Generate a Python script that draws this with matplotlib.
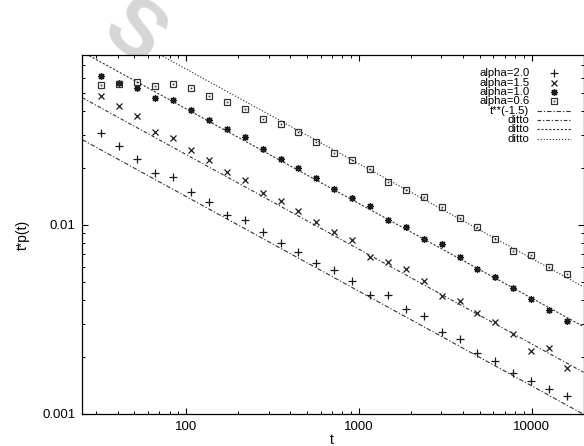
import numpy as np
import matplotlib
matplotlib.use("Agg")
import matplotlib.pyplot as plt
from matplotlib.ticker import FuncFormatter, LogLocator, NullFormatter

plt.rcParams["font.family"] = ["Liberation Sans", "DejaVu Sans"]
plt.rcParams["lines.scale_dashes"] = False

# time steps
t = [32, 41, 52, 66, 84, 106, 135, 172, 218, 277, 352, 446, 567, 720, 914,
     1160, 1473, 1870, 2375, 3015, 3828, 4861, 6172, 7837, 9950, 12634, 16042]

# t*p(t) for each alpha
p_a20 = [0.0304, 0.0260, 0.0224, 0.0189, 0.0178, 0.0149, 0.0132, 0.0113, 0.0106,
         0.00913, 0.00801, 0.00715, 0.00629, 0.00575, 0.00507, 0.00427, 0.00425,
         0.00361, 0.00329, 0.00270, 0.00248, 0.00210, 0.00191, 0.00164, 0.00150,
         0.00135, 0.00125]
p_a15 = [0.0478, 0.0423, 0.0375, 0.0309, 0.0289, 0.0248, 0.0220, 0.0191, 0.0173,
         0.0148, 0.0133, 0.0119, 0.0103, 0.00913, 0.00827, 0.00673, 0.00639,
         0.00584, 0.00503, 0.00423, 0.00398, 0.00343, 0.00306, 0.00264, 0.00215,
         0.00223, 0.00175]
p_a10 = [0.0611, 0.0561, 0.0530, 0.0470, 0.0455, 0.0403, 0.0357, 0.0320, 0.0292,
         0.0251, 0.0224, 0.0200, 0.0177, 0.0154, 0.0139, 0.0126, 0.0106, 0.00973,
         0.00841, 0.00792, 0.00679, 0.00584, 0.00531, 0.00462, 0.00403, 0.00356,
         0.00309]
p_a06 = [0.0550, 0.0557, 0.0566, 0.0544, 0.0557, 0.0528, 0.0482, 0.0446, 0.0411,
         0.0364, 0.0340, 0.0309, 0.0275, 0.0240, 0.0220, 0.0198, 0.0169, 0.0153,
         0.0141, 0.0124, 0.0108, 0.00976, 0.00844, 0.00724, 0.00695, 0.00599,
         0.00548]

labels = ["alpha=2.0", "alpha=1.5", "alpha=1.0", "alpha=0.6"]
fit_labels = ["t**(-1.5)", "ditto", "ditto", "ditto"]
fit_amp = [0.141, 0.235, 0.41, 0.665]   # prefactor of t*t**(-1.5)
fit_exp = -1.5

xlim = (25, 20000)
ylim = (0.001, 0.079)

ink = "#1a1a1a"
markers = ["+", "x", (8, 2, 0), "s"]
msizes = [5.5, 4.5, 5, 4.5]
dashes = [(0, (3.2, 1.4, 0.9, 1.4)), (0, (2.6, 1.4, 0.9, 1.4)),
          (0, (1.6, 1.2)), (0, (0.9, 1.3))]

fig = plt.figure(figsize=(5.84, 4.46), dpi=100)
ax = fig.add_axes([82.3 / 584, 32 / 446, 501.2 / 584, 359 / 446])
ax.set_xscale("log")
ax.set_yscale("log")

series = [p_a20, p_a15, p_a10, p_a06]
tt = np.array(xlim, dtype=float)
for i, vals in enumerate(series):
    if markers[i] == "s":
        ax.plot(t, vals, ls="none", marker="s", ms=msizes[i], mfc="none",
                mec="#333333", mew=0.9)
        ax.plot(t, vals, ls="none", marker="s", ms=1.2, mfc="#333333",
                mec="#333333", mew=0)
    else:
        ax.plot(t, vals, ls="none", marker=markers[i], ms=msizes[i], mec=ink,
                mfc=ink, mew=0.9)
    ax.plot(tt, fit_amp[i] * tt * tt ** fit_exp, color="#333333", lw=0.8,
            ls=dashes[i])

ax.set_xlim(*xlim)
ax.set_ylim(*ylim)

fmt = FuncFormatter(lambda v, _: f"{v:g}")
for axis in (ax.xaxis, ax.yaxis):
    axis.set_major_locator(LogLocator(base=10))
    axis.set_minor_locator(LogLocator(base=10, subs=np.arange(2, 10)))
    axis.set_major_formatter(fmt)
    axis.set_minor_formatter(NullFormatter())

ax.tick_params(which="both", direction="in", top=True, right=True,
               labelsize=9.5, colors="black")
ax.tick_params(which="major", length=4.5, width=0.8, pad=5)
ax.tick_params(which="minor", length=2.5, width=0.7)
for s in ax.spines.values():
    s.set_linewidth(0.9)

ax.set_xlabel("t", fontsize=10)
ax.set_ylabel("t*p(t)", fontsize=10)
ax.xaxis.set_label_coords(0.4976, -0.052)
ax.yaxis.set_label_coords(-0.104, 0.5)

# gnuplot-style key: text right aligned, sample on the right
kx_text, kx_mark, kx_l0, kx_l1 = 0.892, 0.941, 0.907, 0.975
ky0, kdy = 0.949, 0.026
for i, lab in enumerate(labels):
    y = ky0 - i * kdy
    ax.text(kx_text, y, lab, transform=ax.transAxes, ha="right", va="center",
            fontsize=8.2)
    if markers[i] == "s":
        ax.plot([kx_mark], [y], transform=ax.transAxes, ls="none", marker="s",
                ms=msizes[i], mfc="none", mec="#333333", mew=0.9)
        ax.plot([kx_mark], [y], transform=ax.transAxes, ls="none", marker="s",
                ms=1.2, mfc="#333333", mew=0)
    else:
        ax.plot([kx_mark], [y], transform=ax.transAxes, ls="none",
                marker=markers[i], ms=msizes[i], mec=ink, mfc=ink, mew=0.9)
for i, lab in enumerate(fit_labels):
    y = ky0 - (i + 4) * kdy
    ax.text(kx_text, y, lab, transform=ax.transAxes, ha="right", va="center",
            fontsize=8.2)
    ax.plot([kx_l0, kx_l1], [y, y], transform=ax.transAxes, color="#333333",
            lw=0.8, ls=dashes[i])

# faint watermark behind the plot area
fig.text(133 / 584, 1 - 34 / 446, "S", fontsize=58, fontweight="bold",
         color="#d6d6d6", rotation=-38, ha="center", va="center", zorder=-5)

fig.savefig("out.png", dpi=100)
